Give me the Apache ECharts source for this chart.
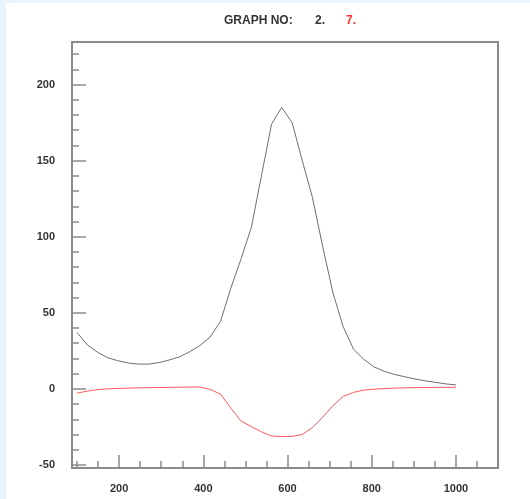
<!DOCTYPE html>
<html>
<head>
<meta charset="utf-8">
<script src="https://cdn.jsdelivr.net/npm/echarts@6/dist/echarts.min.js"></script>
<style>
  html, body { margin: 0; padding: 0; background: #e9f5fd; }
  #chart { position: absolute; left: 6px; top: 3px; width: 524px; height: 496px; background: #fff; }
</style>
</head>
<body>
<div id="chart"></div>
<script>
// x positions of the samples
const xValues = [100, 124, 149, 173, 197, 222, 246, 270, 295, 319, 343, 368, 392, 416, 441, 465, 489, 514, 538,
  562, 586, 611, 635, 659, 684, 708, 732, 757, 781, 805, 830, 854, 878, 903, 927, 951, 976, 1000];
// graph no. 2 (grey)
const graph2 = [37, 29, 24, 20.5, 18.5, 17, 16.3, 16.3, 17.3, 19, 21, 24.5, 28.5, 34, 44.5, 66, 85, 106, 140,
  174, 185, 175, 150, 126, 93, 63, 41, 26, 19.5, 14.5, 11.5, 9.5, 8, 6.5, 5.3, 4.3, 3.3, 2.6];
// graph no. 7 (red)
const graph7 = [-2.8, -1.5, -0.5, 0, 0.3, 0.5, 0.7, 0.8, 0.9, 1, 1.1, 1.2, 1.2, -0.3, -3.5, -12.5, -21, -24.8, -28.2,
  -31, -31.3, -31.2, -30, -25.5, -18.5, -11, -5, -2.3, -0.8, -0.2, 0.2, 0.5, 0.7, 0.8, 0.9, 1, 1, 1.1];

const yMajor = [-50, 0, 50, 100, 150, 200];
const yMinor = [-50, -40, -30, -20, -10, 0, 10, 20, 30, 40, 50, 60, 70, 80, 90, 100, 110, 120, 130, 140,
  150, 160, 170, 180, 190, 200, 210, 220];
const xMajor = [200, 400, 600, 800, 1000];
const xMinor = [100, 150, 250, 300, 350, 450, 500, 550, 650, 700, 750, 850, 900, 950, 1050];

const axisColor = "#8a8a8a";
const labelStyle = { color: "#333", fontFamily: "Liberation Sans", fontWeight: "bold", fontSize: 11, formatter: (v) => String(v) };

const chart = echarts.init(document.getElementById("chart"));

function xAxisOf(ticks, len, labels) {
  return {
    type: "value", min: 88, max: 1100, position: "bottom",
    axisLine: { show: true, onZero: false, lineStyle: { color: axisColor, width: 2 } },
    axisTick: { show: true, inside: true, length: len, customValues: ticks, lineStyle: { color: axisColor, width: 1.5 } },
    axisLabel: labels ? Object.assign({ show: true, margin: 15, customValues: ticks }, labelStyle) : { show: false },
    splitLine: { show: false },
  };
}

function yAxisOf(ticks, len, labels) {
  return {
    type: "value", min: -52, max: 228, position: "left",
    axisLine: { show: true, onZero: false, lineStyle: { color: axisColor, width: 2 } },
    axisTick: { show: true, inside: true, length: len, customValues: ticks, lineStyle: { color: axisColor, width: 1.5 } },
    axisLabel: labels ? Object.assign({ show: true, margin: 17, customValues: ticks }, labelStyle) : { show: false },
    splitLine: { show: false },
  };
}

chart.setOption({
  animation: false,
  grid: {
    left: 66, top: 39, right: 32, bottom: 31,
    show: true, borderColor: axisColor, borderWidth: 2, backgroundColor: "#fff",
  },
  graphic: [
    { type: "text", left: 218, top: 12, style: { text: "GRAPH NO:", fill: "#333", font: "bold 12px 'Liberation Sans'" } },
    { type: "text", left: 309, top: 12, style: { text: "2.", fill: "#333", font: "bold 12px 'Liberation Sans'" } },
    { type: "text", left: 340, top: 12, style: { text: "7.", fill: "#ff3030", font: "bold 12px 'Liberation Sans'" } },
  ],
  xAxis: [xAxisOf(xMajor, 13, true), xAxisOf(xMinor, 7, false)],
  yAxis: [yAxisOf(yMajor, 14, true), yAxisOf(yMinor, 7, false)],
  series: [
    {
      name: "2.", type: "line", symbol: "none",
      data: xValues.map((x, i) => [x, graph2[i]]),
      lineStyle: { color: "#6e6e6e", width: 1 },
    },
    {
      name: "7.", type: "line", symbol: "none",
      data: xValues.map((x, i) => [x, graph7[i]]),
      lineStyle: { color: "#ff5a5a", width: 1 },
    },
  ],
});
</script>
</body>
</html>
